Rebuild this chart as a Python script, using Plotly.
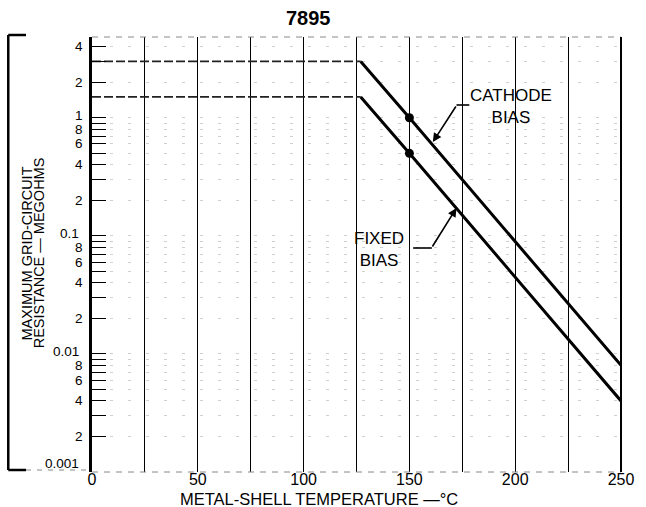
import numpy as np
import plotly.graph_objects as go

# Maximum grid-circuit resistance vs metal-shell temperature, type 7895
temps = [0, 127, 150, 250]                 # metal-shell temperature, deg C
cathode_bias = [3.0, 3.0, 1.0, 0.008]      # megohms
fixed_bias = [1.5, 1.5, 0.5, 0.004]        # megohms
rated_temp = 150                           # rated points marked with dots
cathode_rated = 1.0
fixed_rated = 0.5

x_ticks = list(range(0, 251, 25))
x_labels = [str(v) if v % 50 == 0 else "" for v in x_ticks]

# log axis ticks: every integer multiple within each decade
decade_names = {-3: "0.001", -2: "0.01", -1: "0.1", 0: "1"}
y_ticks = []
y_labels = []
for exp in range(-3, 1):
    for m in range(1, 10):
        v = m * 10.0 ** exp
        if v > 4.5:
            continue
        y_ticks.append(v)
        if m == 1:
            y_labels.append(decade_names[exp])
        elif m in (2, 4, 6, 8):
            y_labels.append(str(m))
        else:
            y_labels.append("")

W, H = 646, 507
L, R, T, B = 92, 17, 37, 35
PW, PH = W - L - R, H - T - B
FONT = "Liberation Sans"


def px(x):
    return (x - L) / PW


def py(y):
    return (H - B - y) / PH


fig = go.Figure()

# flat limiting portions (dashed)
for series in (cathode_bias, fixed_bias):
    fig.add_trace(go.Scatter(
        x=temps[:2], y=series[:2], mode="lines",
        line=dict(color="#222", width=1.8, dash="9px,3px"),
        hoverinfo="skip", showlegend=False))
    fig.add_trace(go.Scatter(
        x=temps[1:], y=series[1:], mode="lines",
        line=dict(color="black", width=3),
        showlegend=False))

fig.add_trace(go.Scatter(
    x=[rated_temp, rated_temp], y=[cathode_rated, fixed_rated], mode="markers",
    marker=dict(color="black", size=9), showlegend=False))

shapes = []
# top and bottom dashed borders
for yy in (0, 1):
    shapes.append(dict(type="line", xref="paper", yref="paper", x0=0, x1=1,
                       y0=yy, y1=yy, line=dict(color="#888", width=1, dash="6px,6px")))
# right edge line at 250
shapes.append(dict(type="line", xref="paper", yref="paper", x0=1, x1=1, y0=0, y1=1,
                   line=dict(color="black", width=2)))
# bracket around the y-axis title
for (x0, y0, x1, y1) in [(7, 35, 7, 470), (7, 35, 25, 35), (7, 470, 25, 470)]:
    shapes.append(dict(type="line", xref="paper", yref="paper",
                       x0=px(x0), y0=py(y0), x1=px(x1), y1=py(y1),
                       line=dict(color="black", width=2.5)))
shapes.append(dict(type="line", xref="paper", yref="paper",
                   x0=px(25), y0=py(470), x1=px(92), y1=py(470),
                   line=dict(color="#888", width=1, dash="5px,6px")))
# leader segments
for (x0, y0, x1, y1) in [(462, 105, 475, 105), (418, 248, 437, 248)]:
    shapes.append(dict(type="line", xref="paper", yref="paper",
                       x0=px(x0), y0=py(y0), x1=px(x1), y1=py(y1),
                       line=dict(color="black", width=1.6)))

annotations = [
    dict(text="<b>7895</b>", x=px(312), y=py(18), font=dict(size=20)),
    dict(text="METAL-SHELL TEMPERATURE —°C", x=px(322), y=py(499), font=dict(size=16.5)),
    dict(text="MAXIMUM GRID-CIRCUIT", x=px(26.5), y=py(253), textangle=-90, font=dict(size=14.5)),
    dict(text="RESISTANCE — MEGOHMS", x=px(38.5), y=py(253), textangle=-90, font=dict(size=14.5)),
    dict(text="CATHODE<br>BIAS", x=px(517), y=py(106), font=dict(size=17)),
    dict(text="FIXED<br>BIAS", x=px(383), y=py(249), font=dict(size=17)),
]
for a in annotations:
    a.update(xref="paper", yref="paper", showarrow=False,
             xanchor="center", yanchor="middle", borderpad=0)
    a["font"].update(family=FONT, color="black")

# y tick labels, placed against the axis; the lowest one sits above the edge
for v, lab in zip(y_ticks, y_labels):
    if not lab:
        continue
    if lab == decade_names[-3]:
        shift = 9
    elif "." in lab or lab == "1":
        shift = 2
    else:
        shift = 0
    annotations.append(dict(
        text=lab, xref="paper", yref="y", x=px(84 if "." not in lab else 80),
        y=np.log10(v), yshift=shift, xanchor="right", yanchor="middle",
        showarrow=False, borderpad=0,
        font=dict(size=13.5, family=FONT, color="black")))

# arrows pointing at the curves
for tip, tail in [((438, 142), (462, 105)), ((462, 208), (437, 248))]:
    annotations.append(dict(
        text="", xref="paper", yref="paper", x=px(tip[0]), y=py(tip[1]),
        ax=tail[0] - tip[0], ay=tail[1] - tip[1], showarrow=True,
        arrowhead=2, arrowsize=1.1, arrowwidth=1.6, arrowcolor="black", standoff=0))

fig.update_layout(
    width=W, height=H,
    margin=dict(l=L, r=R, t=T, b=B, pad=0),
    paper_bgcolor="white", plot_bgcolor="white",
    font=dict(family=FONT, color="black"),
    shapes=shapes, annotations=annotations,
    xaxis=dict(range=[0, 250], tickvals=x_ticks, ticktext=x_labels,
               showgrid=True, gridcolor="black", gridwidth=1.3,
               zeroline=False, showline=False, ticks="",
               ticklabelstandoff=-4,
               tickfont=dict(size=16, family=FONT)),
    yaxis=dict(type="log", range=[-3, np.log10(4.83)],
               tickvals=y_ticks, showticklabels=False,
               showgrid=True, gridcolor="#d0d0d0", gridwidth=1, griddash="3px,15px",
               showline=True, linecolor="black", linewidth=3,
               ticks="inside", ticklen=14, tickwidth=1.2, tickcolor="black",
               zeroline=False),
)

fig.write_html("out.html")
